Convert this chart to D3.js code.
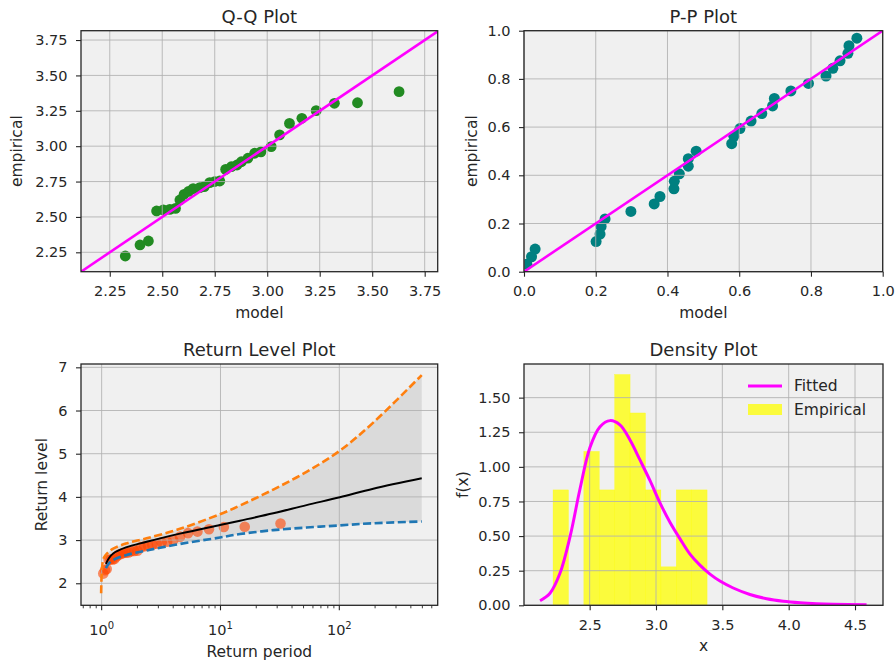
<!DOCTYPE html>
<html>
<head>
<meta charset="utf-8">
<style>
  body { margin: 0; background: white; }
  svg { display: block; }
  text { font-family: "DejaVu Sans", sans-serif; fill: #262626; }
  .tick text { font-size: 14.5px; }
  .tick line { stroke: #262626; stroke-width: 1.1; }
  .grid line { stroke: #b0b0b0; stroke-width: 1; stroke-opacity: 0.85; }
  .title { font-size: 18px; }
  .label { font-size: 15.5px; }
  .legend text { font-size: 15.5px; }
</style>
<script src="https://d3js.org/d3.v7.min.js"></script>
</head>
<body>
<script>
// observed sample (sorted) - used by Q-Q, histogram and return level points
const sample = [2.224, 2.302, 2.330, 2.542, 2.550, 2.553, 2.560, 2.620, 2.660, 2.680, 2.700,
    2.707, 2.714, 2.742, 2.750, 2.754, 2.836, 2.855, 2.867, 2.890, 2.915, 2.950, 2.960,
    2.997, 3.080, 3.161, 3.197, 3.251, 3.303, 3.307, 3.385];

// Q-Q: model quantiles
const qqModel = [2.324, 2.394, 2.434, 2.473, 2.505, 2.536, 2.563, 2.584, 2.604, 2.625, 2.647,
    2.679, 2.700, 2.726, 2.750, 2.774, 2.802, 2.829, 2.856, 2.877, 2.908, 2.940, 2.970,
    3.019, 3.059, 3.106, 3.165, 3.233, 3.320, 3.430, 3.628];

// P-P
const ppModel = [0.008, 0.021, 0.031, 0.201, 0.212, 0.215, 0.226, 0.298, 0.363, 0.379, 0.418,
    0.419, 0.433, 0.458, 0.458, 0.480, 0.579, 0.585, 0.602, 0.633, 0.663, 0.693, 0.698,
    0.744, 0.793, 0.842, 0.861, 0.881, 0.903, 0.906, 0.928];
const ppEmpirical = [0.031, 0.062, 0.094, 0.125, 0.156, 0.188, 0.219, 0.250, 0.281, 0.312, 0.344,
    0.375, 0.406, 0.438, 0.469, 0.500, 0.531, 0.562, 0.594, 0.625, 0.656, 0.688, 0.719,
    0.750, 0.781, 0.812, 0.844, 0.875, 0.906, 0.938, 0.969];

// Return level: empirical return periods of the sample
const rlObsPeriod = [1.032, 1.067, 1.103, 1.143, 1.185, 1.231, 1.280, 1.333, 1.391, 1.455, 1.524,
    1.600, 1.684, 1.778, 1.882, 2.000, 2.133, 2.286, 2.462, 2.667, 2.909, 3.200, 3.556,
    4.000, 4.571, 5.333, 6.400, 8.000, 10.67, 16.00, 32.00];
// fitted return level curve with confidence bounds
const rlPeriod = [0.99, 1.03, 1.086, 1.15, 1.25, 1.6, 2.39, 4.56, 9.9, 14.6, 27.8, 53, 101, 193, 494];
const rlLevel  = [null, null, 2.45, 2.58, 2.69, 2.83, 2.96, 3.15, 3.35, 3.45, 3.62, 3.81, 3.99, 4.19, 4.43];
const rlLower  = [null, null, 2.35, 2.46, 2.54, 2.65, 2.76, 2.91, 3.06, 3.14, 3.23, 3.29, 3.34, 3.39, 3.43];
const rlUpper  = [1.77, 2.55, 2.66, 2.73, 2.80, 2.92, 3.04, 3.26, 3.60, 3.80, 4.17, 4.58, 5.07, 5.72, 6.82];

// Density: fitted pdf
const densX = [2.126, 2.201, 2.276, 2.352, 2.427, 2.502, 2.578, 2.653, 2.728, 2.804, 2.879,
    2.955, 3.030, 3.105, 3.181, 3.256, 3.331, 3.407, 3.482, 3.582, 3.708, 3.834, 3.959,
    4.085, 4.210, 4.336, 4.587];
const densY = [0.033, 0.087, 0.231, 0.496, 0.840, 1.140, 1.290, 1.334, 1.303, 1.194, 1.050,
    0.900, 0.740, 0.600, 0.480, 0.370, 0.290, 0.225, 0.175, 0.125, 0.078, 0.048, 0.030,
    0.019, 0.012, 0.008, 0.004];
const histBins = 10;

const width = 895, height = 665;
const svg = d3.select("body").append("svg").attr("width", width).attr("height", height);
let clipCount = 0;

function makePanel(box, x, y, xTicks, yTicks) {
    const w = box.right - box.left, h = box.bottom - box.top;
    x.range([0, w]);
    y.range([h, 0]);
    const g = svg.append("g").attr("transform", `translate(${box.left},${box.top})`);
    const id = "clip" + (clipCount++);
    g.append("clipPath").attr("id", id).append("rect").attr("width", w).attr("height", h);
    g.append("rect").attr("width", w).attr("height", h).attr("fill", "#f0f0f0");
    const under = g.append("g").attr("clip-path", `url(#${id})`);
    const grid = g.append("g").attr("class", "grid");
    grid.selectAll(".gx").data(xTicks).join("line")
        .attr("x1", d => x(d)).attr("x2", d => x(d)).attr("y1", 0).attr("y2", h);
    grid.selectAll(".gy").data(yTicks).join("line")
        .attr("y1", d => y(d)).attr("y2", d => y(d)).attr("x1", 0).attr("x2", w);
    const over = g.append("g").attr("clip-path", `url(#${id})`);
    g.append("rect").attr("width", w).attr("height", h)
        .attr("fill", "none").attr("stroke", "#262626").attr("stroke-width", 1.3);
    return {g, under, over, w, h};
}

function styleAxis(sel) {
    sel.select(".domain").remove();
    sel.attr("font-family", null).attr("font-size", null);
}

function decorate(p, x, y, o) {
    const xa = p.g.append("g").attr("transform", `translate(0,${p.h})`)
        .call(d3.axisBottom(x).tickValues(o.xTicks).tickFormat(o.xFormat).tickSize(5).tickPadding(9.5));
    styleAxis(xa);
    const ya = p.g.append("g")
        .call(d3.axisLeft(y).tickValues(o.yTicks).tickFormat(o.yFormat).tickSize(5).tickPadding(8.5));
    styleAxis(ya);
    p.g.append("text").attr("class", "title").attr("x", p.w / 2).attr("y", -8)
        .attr("text-anchor", "middle").text(o.title);
    p.g.append("text").attr("class", "label").attr("x", p.w / 2).attr("y", p.h + (o.xLabelDy || 46))
        .attr("text-anchor", "middle").text(o.xLabel);
    p.g.append("text").attr("class", "label")
        .attr("transform", `translate(${-o.yLabelDx},${p.h / 2}) rotate(-90)`)
        .attr("dy", "0.35em").attr("text-anchor", "middle").text(o.yLabel);
    return {xa, ya};
}

// ---------- Q-Q plot ----------
{
    const x = d3.scaleLinear().domain([2.113, 3.812]);
    const y = d3.scaleLinear().domain([2.113, 3.816]);
    const ticks = [2.25, 2.5, 2.75, 3.0, 3.25, 3.5, 3.75];
    const p = makePanel({left: 81, right: 437.7, top: 30.7, bottom: 271.7}, x, y, ticks, ticks);
    p.under.selectAll("circle").data(qqModel).join("circle")
        .attr("cx", d => x(d)).attr("cy", (d, i) => y(sample[i])).attr("r", 5.4)
        .attr("fill", "forestgreen");
    const dom = x.domain();
    p.over.append("line")
        .attr("x1", x(dom[0])).attr("y1", y(dom[0]))
        .attr("x2", x(dom[1])).attr("y2", y(dom[1]))
        .attr("stroke", "magenta").attr("stroke-width", 2.6);
    decorate(p, x, y, {xTicks: ticks, yTicks: ticks, xFormat: d3.format(".2f"), yFormat: d3.format(".2f"),
        title: "Q-Q Plot", xLabel: "model", yLabel: "empirical", yLabelDx: 64});
}

// ---------- P-P plot ----------
{
    const x = d3.scaleLinear().domain([0, 1]);
    const y = d3.scaleLinear().domain([0, 1]);
    const ticks = [0, 0.2, 0.4, 0.6, 0.8, 1.0];
    const p = makePanel({left: 524, right: 882.7, top: 30.7, bottom: 271.7}, x, y, ticks, ticks);
    p.under.selectAll("circle").data(ppModel).join("circle")
        .attr("cx", d => x(d)).attr("cy", (d, i) => y(ppEmpirical[i])).attr("r", 5.5)
        .attr("fill", "teal");
    p.over.append("line")
        .attr("x1", x(0)).attr("y1", y(0)).attr("x2", x(1)).attr("y2", y(1))
        .attr("stroke", "magenta").attr("stroke-width", 2.6);
    decorate(p, x, y, {xTicks: ticks, yTicks: ticks, xFormat: d3.format(".1f"), yFormat: d3.format(".1f"),
        title: "P-P Plot", xLabel: "model", yLabel: "empirical", yLabelDx: 52});
}

// ---------- Return level plot ----------
{
    const x = d3.scaleLog().domain([0.67, 673]);
    const y = d3.scaleLinear().domain([1.49, 7.077]);
    const xMajor = [1, 10, 100];
    const yTicks = [2, 3, 4, 5, 6, 7];
    const p = makePanel({left: 81, right: 437.7, top: 364, bottom: 605.3}, x, y, xMajor, yTicks);
    const rows = rlPeriod.map((t, i) => ({t, level: rlLevel[i], lo: rlLower[i], hi: rlUpper[i]}));
    const smooth = d3.curveCatmullRom.alpha(0.5);

    p.under.append("path").datum(rows.filter(d => d.lo != null))
        .attr("d", d3.area().x(d => x(d.t)).y0(d => y(d.lo)).y1(d => y(d.hi)).curve(smooth))
        .attr("fill", "grey").attr("fill-opacity", 0.2);
    p.under.selectAll("circle").data(rlObsPeriod).join("circle")
        .attr("cx", d => x(d)).attr("cy", (d, i) => y(sample[i])).attr("r", 5.3)
        .attr("fill", "orangered").attr("fill-opacity", 0.6);

    const line = key => d3.line().defined(d => d[key] != null)
        .x(d => x(d.t)).y(d => y(d[key])).curve(smooth);
    p.over.append("path").datum(rows).attr("d", line("level"))
        .attr("fill", "none").attr("stroke", "black").attr("stroke-width", 2);
    p.over.append("path").datum(rows).attr("d", line("lo"))
        .attr("fill", "none").attr("stroke", "#1f77b4").attr("stroke-width", 2.6).attr("stroke-dasharray", "8,3.5");
    p.over.append("path").datum(rows).attr("d", line("hi"))
        .attr("fill", "none").attr("stroke", "#ff7f0e").attr("stroke-width", 2.6).attr("stroke-dasharray", "8,3.5");

    const ax = decorate(p, x, y, {xTicks: [], yTicks, xFormat: d3.format("d"), yFormat: d3.format("d"),
        title: "Return Level Plot", xLabel: "Return period", yLabel: "Return level", yLabelDx: 39, xLabelDy: 52});
    // major ticks with 10^k labels
    const xa = ax.xa;
    const major = xa.selectAll(".maj").data(xMajor).join("g").attr("transform", d => `translate(${x(d)},0)`);
    major.append("line").attr("y2", 5).attr("stroke", "#262626").attr("stroke-width", 1.1);
    const lbl = major.append("text").attr("y", 30).attr("text-anchor", "middle").style("font-size", "14.5px");
    lbl.append("tspan").text("10");
    lbl.append("tspan").attr("dy", -6).style("font-size", "10px").text(d => Math.round(Math.log10(d)));
    const minor = [];
    [0.1, 1, 10, 100].forEach(b => d3.range(2, 10).forEach(k => {
        const v = b * k;
        if (v >= x.domain()[0] && v <= x.domain()[1]) minor.push(v);
    }));
    xa.selectAll(".min").data(minor).join("line")
        .attr("x1", d => x(d)).attr("x2", d => x(d)).attr("y2", 3)
        .attr("stroke", "#262626").attr("stroke-width", 0.9);
}

// ---------- Density plot ----------
{
    const x = d3.scaleLinear().domain([2.005, 4.711]);
    const y = d3.scaleLinear().domain([0, 1.743]);
    const xTicks = [2.5, 3.0, 3.5, 4.0, 4.5];
    const yTicks = [0, 0.25, 0.5, 0.75, 1.0, 1.25, 1.5];
    const p = makePanel({left: 524, right: 883, top: 364, bottom: 605.3}, x, y, xTicks, yTicks);

    const [lo, hi] = d3.extent(sample);
    const step = (hi - lo) / histBins;
    const bins = d3.bin().domain([lo, hi])
        .thresholds(d3.range(1, histBins).map(i => lo + i * step))(sample);
    p.under.selectAll("rect").data(bins).join("rect")
        .attr("x", d => x(d.x0)).attr("width", d => x(d.x1) - x(d.x0))
        .attr("y", d => y(d.length / (sample.length * step)))
        .attr("height", d => y(0) - y(d.length / (sample.length * step)))
        .attr("fill", "yellow").attr("fill-opacity", 0.75)
        .attr("stroke", "yellow").attr("stroke-opacity", 0.75).attr("stroke-width", 0.4);

    p.over.append("path").datum(densX.map((v, i) => [v, densY[i]]))
        .attr("d", d3.line().x(d => x(d[0])).y(d => y(d[1])).curve(d3.curveCatmullRom.alpha(0.5)))
        .attr("fill", "none").attr("stroke", "magenta").attr("stroke-width", 3);

    decorate(p, x, y, {xTicks, yTicks, xFormat: d3.format(".1f"), yFormat: d3.format(".2f"),
        title: "Density Plot", xLabel: "x", yLabel: "f(x)", yLabelDx: 61});

    const lg = p.g.append("g").attr("class", "legend");
    lg.append("line").attr("x1", p.w - 135).attr("x2", p.w - 101).attr("y1", 22).attr("y2", 22)
        .attr("stroke", "magenta").attr("stroke-width", 3);
    lg.append("text").attr("x", p.w - 89).attr("y", 22).attr("dy", "0.35em").text("Fitted");
    lg.append("rect").attr("x", p.w - 135).attr("width", 34).attr("y", 40).attr("height", 11)
        .attr("fill", "yellow").attr("fill-opacity", 0.75);
    lg.append("text").attr("x", p.w - 89).attr("y", 45.5).attr("dy", "0.35em").text("Empirical");
}
</script>
</body>
</html>
